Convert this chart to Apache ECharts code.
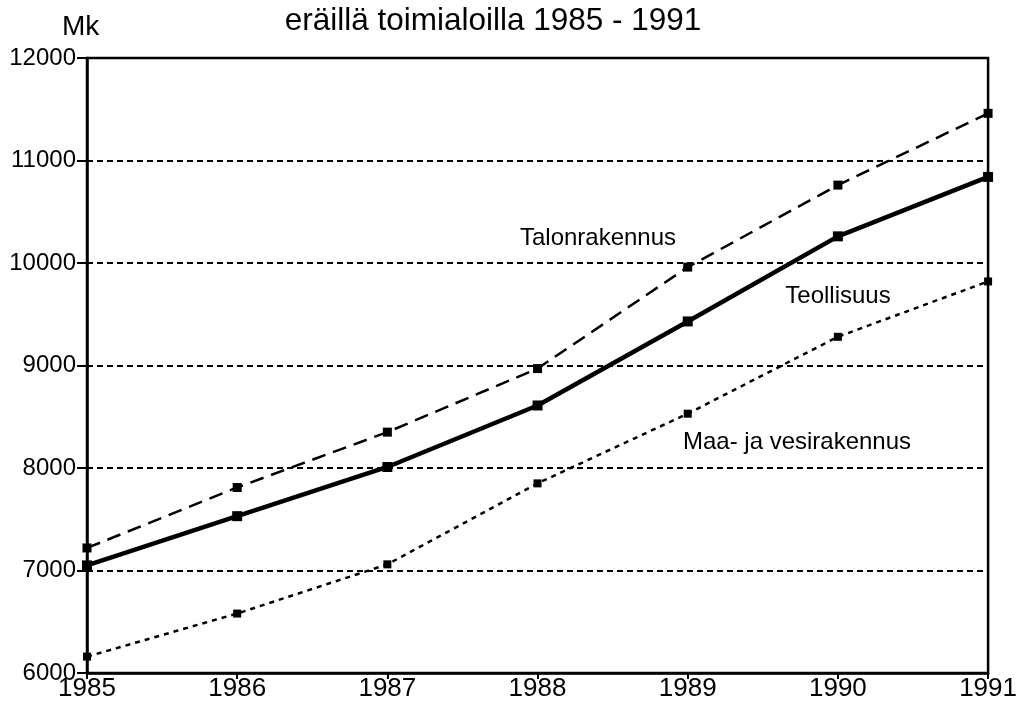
<!DOCTYPE html>
<html>
<head>
<meta charset="utf-8">
<script src="https://cdn.jsdelivr.net/npm/echarts@6/dist/echarts.min.js"></script>
<style>
html,body{margin:0;padding:0;background:#fff;}
#chart{width:1020px;height:707px;}
</style>
</head>
<body>
<div id="chart"></div>
<script>
const years = ['1985','1986','1987','1988','1989','1990','1991'];
const talonrakennus = [7220, 7810, 8350, 8970, 9960, 10760, 11460];
const teollisuus = [7050, 7530, 8010, 8610, 9430, 10260, 10840];
const maaJaVesirakennus = [6160, 6580, 7060, 7850, 8530, 9280, 9820];
const yTicks = [6000, 7000, 8000, 9000, 10000, 11000, 12000];

const FONT = '"Liberation Sans", Arial, Helvetica, sans-serif';
const chart = echarts.init(document.getElementById('chart'), null, {renderer: 'canvas'});

const option = {
  animation: false,
  backgroundColor: '#fff',
  title: {
    text: 'eräillä toimialoilla 1985 - 1991',
    left: 488, top: 0,
    textAlign: 'center',
    textStyle: {fontFamily: FONT, fontSize: 31.5, fontWeight: 'normal', color: '#000'}
  },
  graphic: [
    {type: 'text', left: 62, top: 13, style: {text: 'Mk', font: '28px ' + FONT, fill: '#000'}},
    {type: 'text', x: 598, y: 238, style: {text: 'Talonrakennus', font: '24px ' + FONT, fill: '#000', align: 'center', verticalAlign: 'middle'}},
    {type: 'text', x: 838, y: 296, style: {text: 'Teollisuus', font: '24px ' + FONT, fill: '#000', align: 'center', verticalAlign: 'middle'}},
    {type: 'text', x: 797, y: 442, style: {text: 'Maa- ja vesirakennus', font: '24px ' + FONT, fill: '#000', align: 'center', verticalAlign: 'middle'}}
  ],
  grid: {
    left: 87, right: 26, top: 58, bottom: 34,
    show: true, borderColor: '#000', borderWidth: 2.5, backgroundColor: 'transparent'
  },
  xAxis: {
    type: 'category',
    data: years,
    boundaryGap: false,
    axisLine: {lineStyle: {color: '#000', width: 2.5}},
    axisTick: {show: true, inside: false, length: 6, alignWithLabel: true, lineStyle: {color: '#000', width: 2}},
    axisLabel: {color: '#000', fontFamily: FONT, fontSize: 26, margin: 3},
    splitLine: {show: false}
  },
  yAxis: {
    type: 'value',
    min: yTicks[0], max: yTicks[yTicks.length - 1], interval: 1000,
    axisLine: {show: true, lineStyle: {color: '#000', width: 2.5}},
    axisTick: {show: true, length: 10, lineStyle: {color: '#000', width: 2}},
    axisLabel: {color: '#000', fontFamily: FONT, fontSize: 24, margin: 11,
      formatter: function (v) { return String(v); }},
    splitLine: {show: true, lineStyle: {color: '#000', width: 2, type: [6, 4]}}
  },
  series: [
    {
      name: 'Talonrakennus', type: 'line', data: talonrakennus,
      symbol: 'rect', symbolSize: 9, itemStyle: {color: '#000'},
      lineStyle: {color: '#000', width: 2.5, type: [14, 8]}, z: 3
    },
    {
      name: 'Teollisuus', type: 'line', data: teollisuus,
      symbol: 'rect', symbolSize: 10, itemStyle: {color: '#000'},
      lineStyle: {color: '#000', width: 4.5, type: 'solid'}, z: 3
    },
    {
      name: 'Maa- ja vesirakennus', type: 'line', data: maaJaVesirakennus,
      symbol: 'rect', symbolSize: 8, itemStyle: {color: '#000'},
      lineStyle: {color: '#000', width: 2.5, type: [5, 5]}, z: 3
    }
  ]
};
chart.setOption(option);
</script>
</body>
</html>
